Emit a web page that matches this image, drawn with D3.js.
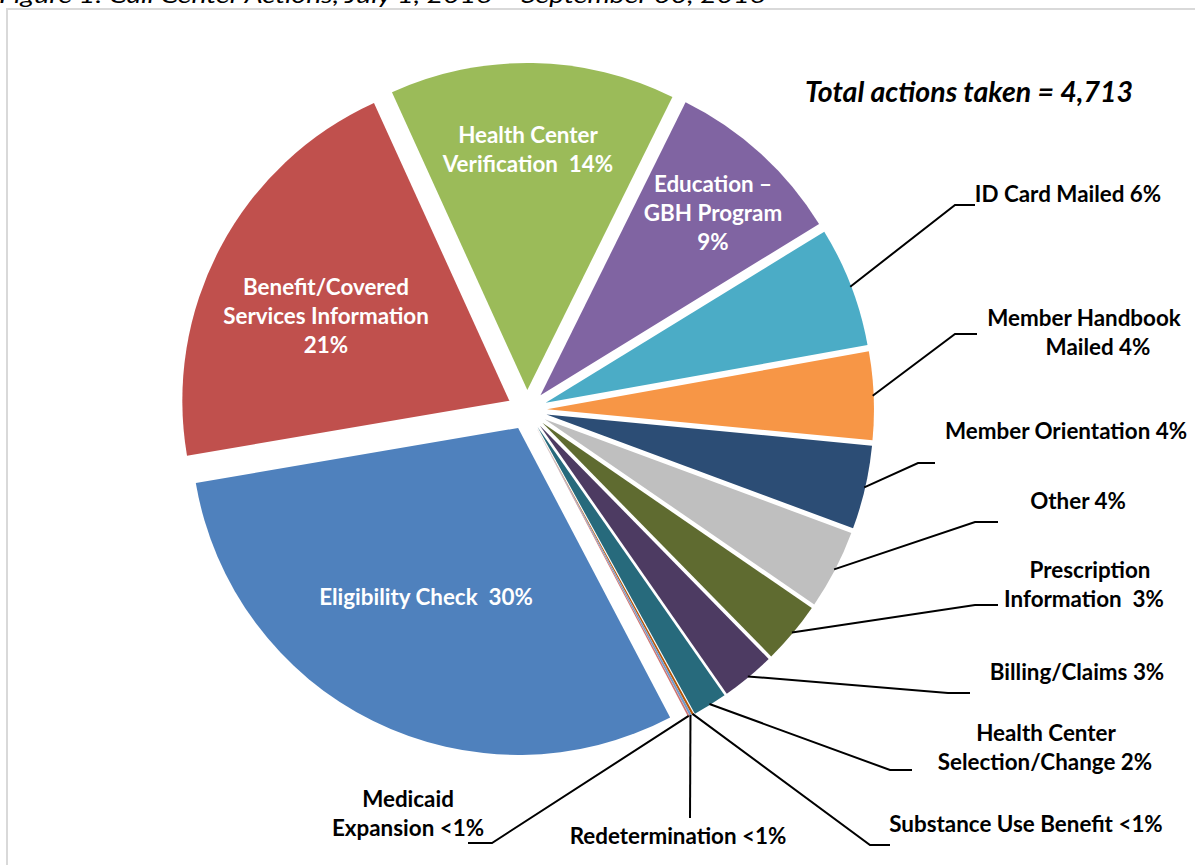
<!DOCTYPE html>
<html>
<head>
<meta charset="utf-8">
<script src="https://cdn.jsdelivr.net/npm/d3@7"></script>
<style>
  html, body { margin: 0; padding: 0; background: #fff; }
  svg { display: block; }
  text { white-space: pre; }
</style>
</head>
<body>
<svg id="chart" width="1195" height="865"></svg>
<script>
// ---------------- DATA ----------------
const categories = [
  "Eligibility Check", "Benefit/Covered Services Information", "Health Center Verification",
  "Education – GBH Program", "ID Card Mailed", "Member Handbook Mailed", "Member Orientation",
  "Other", "Prescription Information", "Billing/Claims", "Health Center Selection/Change",
  "Substance Use Benefit", "Redetermination", "Medicaid Expansion"
];
const values = [1414, 985, 665, 420, 280, 205, 195, 185, 145, 125, 80, 5, 5, 4];
const totalActions = 4713;
const labelLines = [
  ["Eligibility Check  30%"],
  ["Benefit/Covered", "Services Information", "21%"],
  ["Health Center", "Verification  14%"],
  ["Education –", "GBH Program", "9%"],
  ["ID Card Mailed 6%"],
  ["Member Handbook", "Mailed 4%"],
  ["Member Orientation 4%"],
  ["Other 4%"],
  ["Prescription", "Information  3%"],
  ["Billing/Claims 3%"],
  ["Health Center", "Selection/Change 2%"],
  ["Substance Use Benefit <1%"],
  ["Redetermination <1%"],
  ["Medicaid", "Expansion <1%"]
];
const colors = ["#4F81BD", "#C0504D", "#9BBB59", "#8064A2", "#4BACC6", "#F79646", "#2C4D75",
  "#BFBFBF", "#5F6B30", "#4D3B62", "#276A7C", "#B65708", "#729ACA", "#CD7371"];
const titleText = "Figure 1: Call Center Actions, July 1, 2016 – September 30, 2016";
const totalText = "Total actions taken = " + d3.format(",")(totalActions);

// ---------------- LAYOUT ----------------
const cx = 527, cy = 410, R = 327, explode = 20;
const startDeg = 152.3;
const labelLayout = [
  {inside: true, x: 426, y: 597},
  {inside: true, x: 326, y: 287},
  {inside: true, x: 528, y: 135},
  {inside: true, x: 713, y: 184},
  {x: 1068, y: 194, elbow: [955, 205], end: [975, 205]},
  {x: 1084, y: 318, elbow: [955, 334], end: [977, 334], xs: [1084, 1098]},
  {x: 1066, y: 431, elbow: [918, 463], end: [935, 463]},
  {x: 1078, y: 501, elbow: [975, 522], end: [998, 522]},
  {x: 1088, y: 570, elbow: [975, 605], end: [998, 605], xs: [1090, 1084]},
  {x: 1077, y: 672, elbow: [948, 693], end: [970, 693]},
  {x: 1046, y: 733, elbow: [890, 770], end: [912, 770], xs: [1046, 1045]},
  {x: 1026, y: 824, elbow: [870, 845], end: [890, 845]},
  {x: 678, y: 836, elbow: [690, 818], end: [690, 818]},
  {x: 408, y: 799, elbow: [492, 843], end: [468, 843]}
];
const lineH = 29;
const fontFam = "Lato, 'Open Sans', sans-serif";

const svg = d3.select("#chart");

// frame
svg.append("rect").attr("x", 7).attr("y", 9).attr("width", 1300).attr("height", 1000)
  .attr("fill", "#fff").attr("stroke", "#D9D9D9").attr("stroke-width", 2);

// title (cut off at top, as in the source)
svg.append("text").attr("x", -1).attr("y", 3)
  .attr("font-family", fontFam).attr("font-style", "italic")
  .attr("font-size", 21).attr("fill", "#000")
  .attr("textLength", 766).attr("lengthAdjust", "spacingAndGlyphs")
  .text(titleText);

const pie = d3.pie().sort(null).value(d => d)
  .startAngle(startDeg * Math.PI / 180).endAngle(startDeg * Math.PI / 180 + 2 * Math.PI);
const arcs = pie(values);
const arcGen = d3.arc().innerRadius(0).outerRadius(R);

const g = svg.append("g").attr("transform", `translate(${cx},${cy})`);
g.selectAll("path.slice").data(arcs).join("path")
  .attr("class", "slice")
  .attr("d", arcGen)
  .attr("fill", (d, i) => colors[i])
  .attr("transform", d => {
    const m = (d.startAngle + d.endAngle) / 2;
    return `translate(${explode * Math.sin(m)},${-explode * Math.cos(m)})`;
  });

// leader lines
arcs.forEach((d, i) => {
  const L = labelLayout[i];
  if (L.inside) return;
  const m = (d.startAngle + d.endAngle) / 2;
  const sx = cx + (R + explode - 1) * Math.sin(m);
  const sy = cy - (R + explode - 1) * Math.cos(m);
  svg.append("polyline")
    .attr("points", [[sx, sy], L.elbow, L.end].map(p => p.join(",")).join(" "))
    .attr("fill", "none").attr("stroke", "#000").attr("stroke-width", 2);
});

// labels
labelLines.forEach((lines, i) => {
  const L = labelLayout[i];
  const t = svg.append("text")
    .attr("font-family", fontFam).attr("font-weight", "bold")
    .attr("font-size", 22.4).attr("text-anchor", "middle")
    .attr("fill", L.inside ? "#fff" : "#000");
  lines.forEach((ln, k) => {
    t.append("tspan").attr("x", L.xs ? L.xs[k] : L.x).attr("y", L.y + k * lineH)
      .attr("dy", "0.35em").text(ln);
  });
});

// total
svg.append("text").attr("x", 969).attr("y", 92).attr("dy", "0.35em")
  .attr("text-anchor", "middle")
  .attr("font-family", fontFam).attr("font-weight", "bold")
  .attr("font-style", "italic").attr("font-size", 28.5)
  .text(totalText);
</script>
</body>
</html>
